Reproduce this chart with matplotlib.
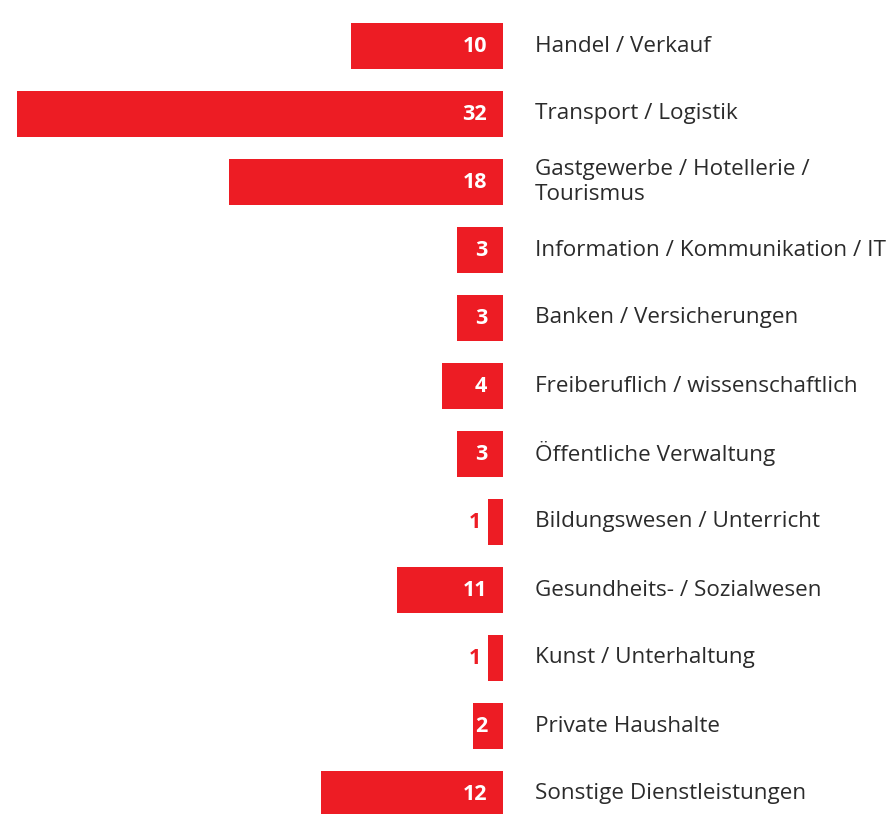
import matplotlib
matplotlib.use("Agg")
import matplotlib.pyplot as plt

categories = ["Handel / Verkauf", "Transport / Logistik",
              "Gastgewerbe / Hotellerie /\nTourismus",
              "Information / Kommunikation / IT", "Banken / Versicherungen",
              "Freiberuflich / wissenschaftlich", "Öffentliche Verwaltung",
              "Bildungswesen / Unterricht", "Gesundheits- / Sozialwesen",
              "Kunst / Unterhaltung", "Private Haushalte",
              "Sonstige Dienstleistungen"]
# printed numbers
values = [10, 32, 18, 3, 3, 4, 3, 1, 11, 1, 2, 12]
# bar lengths as drawn in the source (the "11" bar is drawn only ~7 long)
bar_lengths = [10, 32, 18, 3, 3, 4, 3, 1, 7, 1, 2, 12]

red = "#ED1C24"
px = 15.2  # pixels per unit

plt.rcParams['font.family'] = ['Open Sans', 'DejaVu Sans']
fig = plt.figure(figsize=(8.91, 8.14), dpi=100)
ax = fig.add_axes([0, 0, 1, 1])
ax.set_xlim(-503 / px, (891 - 503) / px)
ax.set_ylim((814 - 46) / 68, -46 / 68)
ax.axis('off')

ys = list(range(len(values)))
ax.barh(ys, [-b for b in bar_lengths], height=46 / 68, color=red)

for y, v, b, c in zip(ys, values, bar_lengths, categories):
    ax.text(32 / px, y, c, va='center', ha='left', fontsize=16.2,
            color='#2b2b2b', linespacing=1.2)
    if b > 1:
        ax.text(-16 / px, y, str(v), va='center', ha='right', fontsize=15.5,
                fontweight='bold', color='white')
    else:
        ax.text(-b - 7 / px, y, str(v), va='center', ha='right',
                fontsize=15.5, fontweight='bold', color=red)

fig.savefig("out.png", dpi=100)
